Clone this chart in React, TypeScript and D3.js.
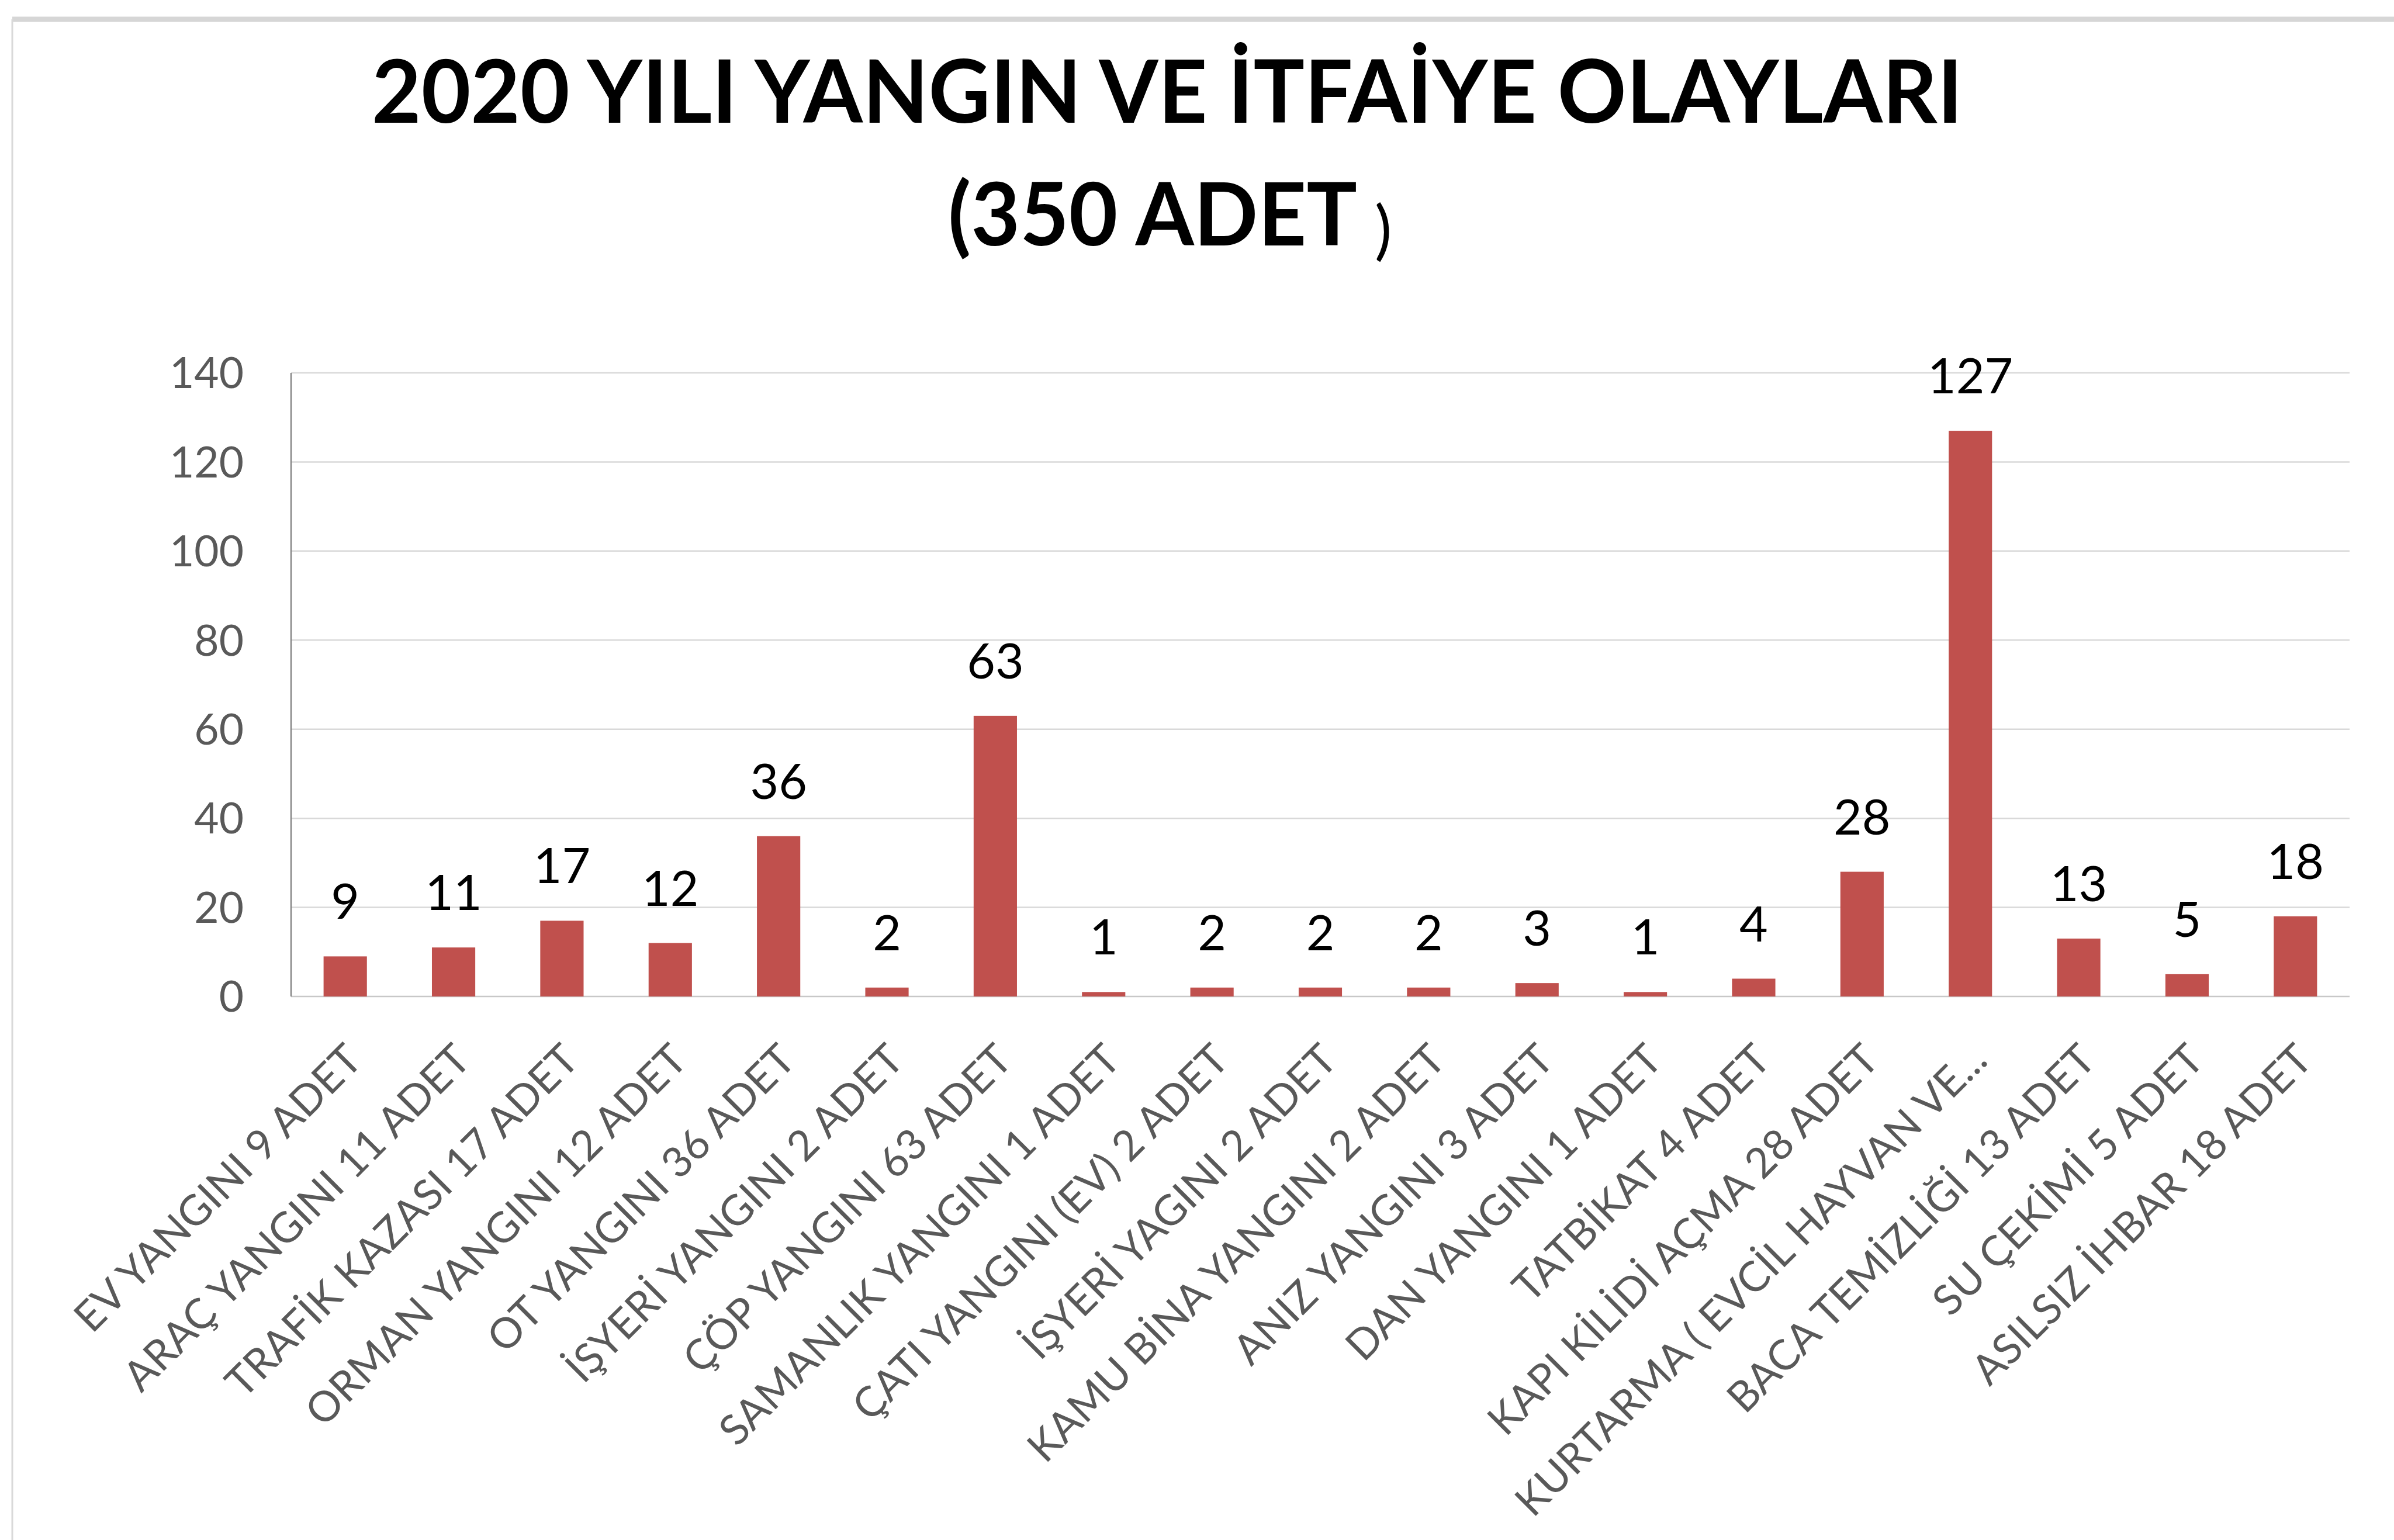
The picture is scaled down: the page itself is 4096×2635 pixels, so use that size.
import React from "react";
import * as d3 from "d3";

const categories: string[] = [
  "EV YANGINI 9 ADET",
  "ARAÇ YANGINI 11 ADET",
  "TRAFİK KAZASI 17 ADET",
  "ORMAN YANGINI 12 ADET",
  "OT YANGINI 36 ADET",
  "İŞYERİ YANGINI 2 ADET",
  "ÇÖP YANGINI 63 ADET",
  "SAMANLIK YANGINI 1 ADET",
  "ÇATI YANGINI (EV) 2 ADET",
  "İŞYERİ YAGINI 2 ADET",
  "KAMU BİNA YANGINI 2 ADET",
  "ANIZ YANGINI 3 ADET",
  "DAN YANGINI 1 ADET",
  "TATBİKAT 4 ADET",
  "KAPI KİLİDİ AÇMA 28 ADET",
  "KURTARMA ( EVCİL HAYVAN VE...",
  "BACA TEMİZLİĞİ 13 ADET",
  "SU ÇEKİMİ 5 ADET",
  "ASILSIZ İHBAR 18 ADET",
];

const values: number[] = [9, 11, 17, 12, 36, 2, 63, 1, 2, 2, 2, 3, 1, 4, 28, 127, 13, 5, 18];

const yTicks: number[] = [0, 20, 40, 60, 80, 100, 120, 140];

const titleLine1 = "2020 YILI YANGIN VE İTFAİYE OLAYLARI";
const titleLine2 = "(350 ADET";
const titleClose = ")";

const W = 4096;
const H = 2635;
const FONT = "Lato, 'Open Sans', sans-serif";

export default function App() {
  const left = 498;
  const right = 4020;
  const top = 638;
  const bottom = 1705;

  const x = d3
    .scaleBand<string>()
    .domain(categories)
    .range([left, right])
    .paddingInner(0.6)
    .paddingOuter(0.3);

  const y = d3.scaleLinear().domain([0, 140]).range([bottom, top]);

  const data = categories.map((c, i) => ({ c, v: values[i] }));

  return (
    <svg
      width={W}
      height={H}
      style={{ position: "absolute", left: 0, top: 0, background: "#fff" }}
    >
      <rect x={0} y={0} width={W} height={H} fill="#fff" />
      {/* outer frame */}
      <line x1={21} y1={33} x2={W} y2={33} stroke="#d6d6d6" strokeWidth={9} />
      <line x1={21} y1={33} x2={21} y2={H} stroke="#d9d9d9" strokeWidth={3} />

      {/* title */}
      <text
        x={636}
        y={210}
        fontFamily={FONT}
        fontWeight={700}
        fontSize={150}
        fill="#000"
        textLength={2722}
        lengthAdjust="spacingAndGlyphs"
      >
        {titleLine1}
      </text>
      <text
        x={1622}
        y={420}
        fontFamily={FONT}
        fontWeight={700}
        fontSize={150}
        fill="#000"
        textLength={700}
        lengthAdjust="spacingAndGlyphs"
      >
        {titleLine2}
      </text>
      <text x={2352} y={432} fontFamily={FONT} fontWeight={400} fontSize={110} fill="#000">
        {titleClose}
      </text>

      {/* gridlines */}
      {yTicks.map((t) => (
        <line
          key={"g" + t}
          x1={left}
          x2={right}
          y1={y(t)}
          y2={y(t)}
          stroke={t === 0 ? "#c8c8c8" : "#d9d9d9"}
          strokeWidth={2.5}
        />
      ))}
      {/* y axis line */}
      <line x1={left} x2={left} y1={top} y2={bottom} stroke="#868686" strokeWidth={2.5} />

      {/* y tick labels */}
      {yTicks.map((t) => (
        <text
          key={"t" + t}
          x={left - 81}
          y={y(t)}
          dy="0.36em"
          textAnchor="end"
          fontFamily={FONT}
          fontSize={73}
          fill="#595959"
        >
          {t}
        </text>
      ))}

      {/* bars */}
      {data.map((d) => (
        <rect
          key={"b" + d.c}
          x={x(d.c)}
          y={y(d.v)}
          width={x.bandwidth()}
          height={y(0) - y(d.v)}
          fill="#C0504D"
        />
      ))}

      {/* data labels */}
      {data.map((d) => (
        <text
          key={"l" + d.c}
          x={(x(d.c) as number) + x.bandwidth() / 2}
          y={y(d.v) - 64}
          textAnchor="middle"
          fontFamily={FONT}
          fontSize={84}
          fill="#000"
        >
          {d.v}
        </text>
      ))}

      {/* x labels */}
      {data.map((d) => {
        const cx = (x(d.c) as number) + x.bandwidth() / 2;
        return (
          <text
            key={"x" + d.c}
            transform={`translate(${cx - 4},${bottom + 76}) rotate(-45)`}
            textAnchor="end"
            dy="0.72em"
            fontFamily={FONT}
            fontSize={72}
            fill="#595959"
          >
            {d.c}
          </text>
        );
      })}
    </svg>
  );
}
